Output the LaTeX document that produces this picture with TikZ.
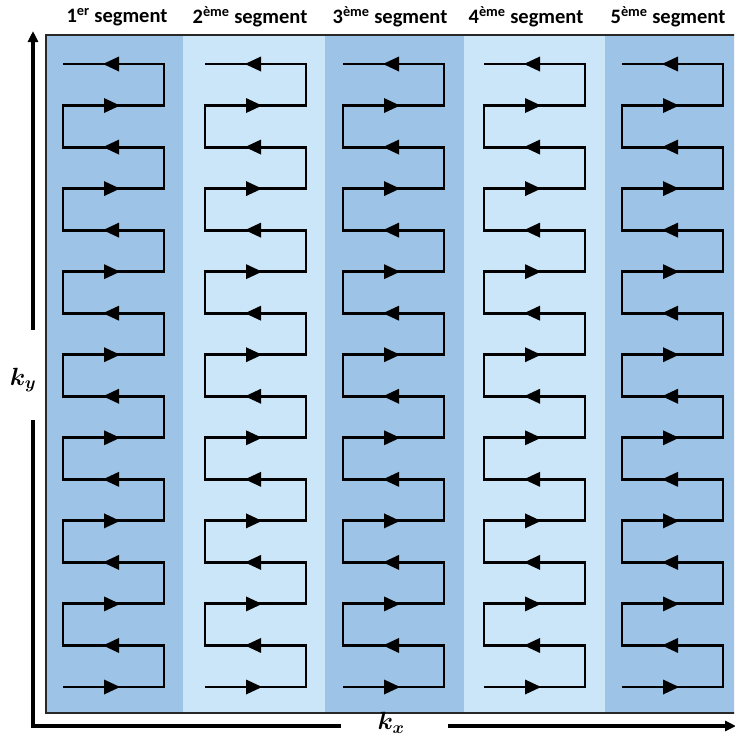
\documentclass[tikz,border=0pt]{standalone}
\usepackage{fontspec}
\newfontfamily\labfont{Carlito}
\usetikzlibrary{arrows.meta}
\definecolor{stripedark}{RGB}{157,195,230}
\definecolor{stripelight}{RGB}{203,230,248}
\definecolor{framecol}{RGB}{40,40,40}
\begin{document}
\begin{tikzpicture}[x=1pt,y=-1pt,
  seglab/.style={font=\labfont\bfseries\fontsize{20.5}{22}\selectfont, inner sep=1pt},
  axlab/.style={font=\boldmath\fontsize{25}{26}\selectfont, inner sep=0pt},
  axis/.style={line width=3.8pt, black, line join=miter},
  zig/.style={line width=2.9pt, black, line join=miter, line cap=butt},
  framebox/.style={line width=2.4pt, draw=framecol},
  tipr/.style={fill=black}
]
\useasboundingbox (0,0) rectangle (734,742);
% stripes and frame
\begin{scope}
\clip (0,0) rectangle (734,742);
\fill[stripedark]  (46,35) rectangle (183,713);
\fill[stripelight] (183,35) rectangle (325,713);
\fill[stripedark]  (325,35) rectangle (464,713);
\fill[stripelight] (464,35) rectangle (605,713);
\fill[stripedark]  (605,35) rectangle (760,713);
\draw[framebox] (46,35) rectangle (760,713);
\end{scope}
% zigzags
\pgfmathsetmacro{\dd}{(687-64)/15}
\foreach \L in {63,205,343,484,622}{
  \draw[zig] (\L,687) -- ++(101,0) -- ++(0,-\dd) -- ++(-101,0)
    \foreach \k in {1,...,7}{ -- ++(0,-\dd) -- ++(101,0) -- ++(0,-\dd) -- ++(-101,0) };
  \foreach \i in {0,...,15}{
    \pgfmathsetmacro{\yy}{687-\i*\dd}
    \ifodd\i
      \fill[tipr] (\L+56,\yy-7.5) -- (\L+40,\yy) -- (\L+56,\yy+7.5) -- cycle;
    \else
      \fill[tipr] (\L+41,\yy-7.5) -- (\L+57,\yy) -- (\L+41,\yy+7.5) -- cycle;
    \fi
  }
}
% segment labels
\node[seglab] (s1) at (117,17) {1\textsuperscript{er} segment};
\node[seglab] (s2) at (250,17) {2\textsuperscript{ème} segment};
\node[seglab] (s3) at (390,17) {3\textsuperscript{ème} segment};
\node[seglab] (s4) at (526,17) {4\textsuperscript{ème} segment};
\node[seglab] (s5) at (668,17) {5\textsuperscript{ème} segment};
% axes
\coordinate (O) at (33,726);
\coordinate (ytop) at (33,31);
\coordinate (ygapb) at (33,420);
\coordinate (ygapt) at (33,330);
\coordinate (xgapl) at (341,726);
\coordinate (xgapr) at (448,726);
\coordinate (xend) at (736,726);
\node[axlab] (ky) at (23,380) {$k_y$};
\node[axlab] (kx) at (391,723) {$k_x$};
\draw[axis] (ygapb) -- (O) -- (xgapl);
\draw[axis,-{Triangle[length=11pt,width=10pt]}] (ygapt) -- (ytop);
\draw[axis,-{Triangle[length=11pt,width=10pt]}] (xgapr) -- (xend);
\end{tikzpicture}
\end{document}
